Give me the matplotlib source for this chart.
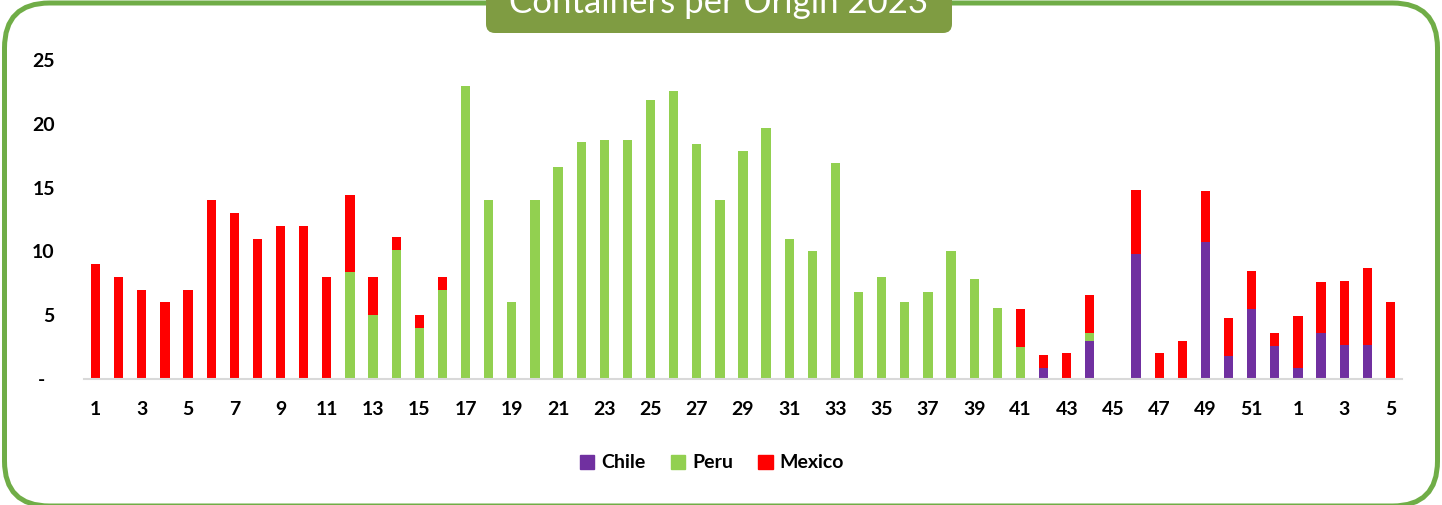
import numpy as np
import matplotlib
matplotlib.use('Agg')
import matplotlib.pyplot as plt
from matplotlib.patches import FancyBboxPatch, Patch

plt.rcParams['font.family'] = ['Lato', 'DejaVu Sans']

# week numbers: 2023 weeks 1..52, then 2024 weeks 1..5
weeks = list(range(1, 53)) + [1, 2, 3, 4, 5]

chile = [0] * 41 + [0.9, 0, 3.0, 0, 9.8, 0, 0, 10.7, 1.8, 5.5, 2.6,
                    0.9, 3.6, 2.7, 2.7, 0]

peru = [0] * 11 + [8.4, 5, 10.1, 4, 7, 23, 14, 6, 14, 16.6, 18.6, 18.7, 18.7,
                   21.9, 22.6, 18.4, 14, 17.9, 19.7, 11, 10, 16.9, 6.8, 8, 6,
                   6.8, 10, 7.8, 5.6, 2.5, 0, 0, 0.6] + [0] * 8 + [0] * 5

mexico = [9, 8, 7, 6, 7, 14, 13, 11, 12, 12, 8, 6, 3, 1, 1, 1] + [0] * 24 + \
         [3, 1, 2, 3, 0, 5, 2, 3, 4, 3, 3, 1] + [4, 4, 5, 6, 6]

c_chile = '#7030A0'
c_peru = '#92D050'
c_mexico = '#FF0000'

W, H = 1442, 505
fig = plt.figure(figsize=(W / 100, H / 100), dpi=100)

# background layer in pixel coords for the frame and the title tab
bg = fig.add_axes([0, 0, 1, 1])
bg.set_xlim(0, W)
bg.set_ylim(H, 0)
bg.axis('off')
frame = FancyBboxPatch((4.5, 3), W - 9, H - 2,
                       boxstyle='round,pad=0,rounding_size=45',
                       fc='white', ec='#70AD47', lw=3.6)
bg.add_patch(frame)
tab = FancyBboxPatch((486, -20), 466, 53, boxstyle='round,pad=0,rounding_size=9',
                     fc='#7F9C42', ec='none')
bg.add_patch(tab)
bg.text(719, 13, 'Containers per Origin 2023', color='white', fontsize=25,
        ha='center', va='baseline')

ax = fig.add_axes([84 / W, 1 - 379 / H, (1402 - 84) / W, (379 - 60) / H])
x = np.arange(len(weeks))
ch = np.array(chile)
pe = np.array(peru)
mx = np.array(mexico)
ax.bar(x, ch, width=0.4, color=c_chile, label='Chile')
ax.bar(x, pe, width=0.4, bottom=ch, color=c_peru, label='Peru')
ax.bar(x, mx, width=0.4, bottom=ch + pe, color=c_mexico, label='Mexico')

ax.set_xlim(-0.5, len(weeks) - 0.5)
ax.set_ylim(0, 25)
ax.set_yticks(range(0, 26, 5))
ax.set_yticklabels(['-  '] + [str(v) for v in range(5, 26, 5)],
                   fontsize=14, fontweight='bold')
ax.set_xticks(x[::2])
ax.set_xticklabels([str(weeks[i]) for i in x[::2]], fontsize=14, fontweight='bold')
ax.tick_params(axis='y', length=0, pad=21)
ax.tick_params(axis='x', length=0, pad=16)
for s in ['top', 'right', 'left']:
    ax.spines[s].set_visible(False)
ax.spines['bottom'].set_color('#D9D9D9')
ax.spines['bottom'].set_linewidth(1.5)
ax.patch.set_alpha(0)

handles = [Patch(color=c_chile), Patch(color=c_peru), Patch(color=c_mexico)]
fig.legend(handles, ['Chile', 'Peru', 'Mexico'], loc='center',
           bbox_to_anchor=(712 / W, 1 - 463 / H), ncol=3, frameon=False,
           prop={'size': 14, 'weight': 'bold'}, handlelength=0.75,
           handleheight=0.75, handletextpad=0.35, columnspacing=1.3)

fig.savefig('out.png', dpi=100)
